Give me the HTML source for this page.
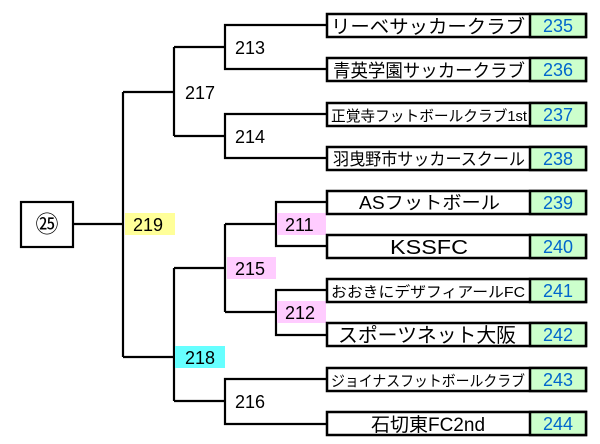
<!DOCTYPE html>
<html><head><meta charset="utf-8"><style>
html,body{margin:0;padding:0;background:#fff;}
svg{display:block;}
text{font-family:"Liberation Sans","Noto Sans CJK JP",sans-serif;}
</style></head><body>
<svg width="600" height="444" viewBox="0 0 600 444" xmlns="http://www.w3.org/2000/svg">
<g fill="none" stroke="#000" stroke-width="2.2">
<rect x="21" y="202" width="52" height="45"/>
<line x1="73" y1="224" x2="123" y2="224"/>
<line x1="123" y1="92" x2="123" y2="357"/>
<line x1="123" y1="92" x2="174" y2="92"/>
<line x1="123" y1="357" x2="174" y2="357"/>
<line x1="174" y1="47" x2="174" y2="136"/>
<line x1="174" y1="47" x2="225" y2="47"/>
<line x1="174" y1="136" x2="225" y2="136"/>
<path d="M326 25 H225 V69 H326"/>
<path d="M326 114 H225 V158 H326"/>
<line x1="174" y1="268" x2="174" y2="401"/>
<line x1="174" y1="268" x2="225" y2="268"/>
<line x1="174" y1="401" x2="225" y2="401"/>
<line x1="225" y1="224" x2="225" y2="312"/>
<line x1="225" y1="224" x2="276" y2="224"/>
<line x1="225" y1="312" x2="276" y2="312"/>
<path d="M326 202 H276 V246 H326"/>
<path d="M326 290 H276 V335 H326"/>
<path d="M326 379 H225 V424 H326"/>
</g>
<rect x="125" y="213" width="50" height="22" fill="#ffff99"/>
<rect x="175" y="346" width="50" height="22" fill="#66ffff"/>
<rect x="227" y="257" width="49" height="22" fill="#ffccff"/>
<rect x="277" y="213" width="49" height="22" fill="#ffccff"/>
<rect x="277" y="301" width="49" height="22" fill="#ffccff"/>
<g font-size="18" fill="#000">
<text x="47" y="232" text-anchor="middle" font-size="23">㉕</text>
<text x="133" y="231">219</text>
<text x="185" y="99">217</text>
<text x="235" y="54">213</text>
<text x="235" y="143">214</text>
<text x="185" y="364">218</text>
<text x="235" y="275">215</text>
<text x="285" y="231">211</text>
<text x="285" y="319">212</text>
<text x="235" y="408">216</text>
</g>
<g stroke="#000" stroke-width="2.5">
<rect x="327" y="14" width="259" height="23" fill="#fff"/><rect x="530" y="14" width="56" height="23" fill="#ccffcc"/>
<rect x="327" y="58" width="259" height="23" fill="#fff"/><rect x="530" y="58" width="56" height="23" fill="#ccffcc"/>
<rect x="327" y="103" width="259" height="23" fill="#fff"/><rect x="530" y="103" width="56" height="23" fill="#ccffcc"/>
<rect x="327" y="147" width="259" height="23" fill="#fff"/><rect x="530" y="147" width="56" height="23" fill="#ccffcc"/>
<rect x="327" y="191" width="259" height="23" fill="#fff"/><rect x="530" y="191" width="56" height="23" fill="#ccffcc"/>
<rect x="327" y="235" width="259" height="23" fill="#fff"/><rect x="530" y="235" width="56" height="23" fill="#ccffcc"/>
<rect x="327" y="279" width="259" height="23" fill="#fff"/><rect x="530" y="279" width="56" height="23" fill="#ccffcc"/>
<rect x="327" y="323" width="259" height="23" fill="#fff"/><rect x="530" y="323" width="56" height="23" fill="#ccffcc"/>
<rect x="327" y="368" width="259" height="23" fill="#fff"/><rect x="530" y="368" width="56" height="23" fill="#ccffcc"/>
<rect x="327" y="412" width="259" height="23" fill="#fff"/><rect x="530" y="412" width="56" height="23" fill="#ccffcc"/>
</g>
<g font-size="18" fill="#0066cc" text-anchor="middle">
<text x="558" y="32">235</text><text x="558" y="76">236</text><text x="558" y="121">237</text>
<text x="558" y="165">238</text><text x="558" y="209">239</text><text x="558" y="253">240</text>
<text x="558" y="297">241</text><text x="558" y="341">242</text><text x="558" y="386">243</text>
<text x="558" y="430">244</text>
</g>
<g fill="#000">
<text x="331" y="33" font-size="19" textLength="194" lengthAdjust="spacingAndGlyphs">リーベサッカークラブ</text>
<text x="333" y="77" font-size="18" textLength="192" lengthAdjust="spacingAndGlyphs">青英学園サッカークラブ</text>
<text x="331" y="121" font-size="15" textLength="196" lengthAdjust="spacingAndGlyphs">正覚寺フットボールクラブ1st</text>
<text x="333" y="165" font-size="17" textLength="192" lengthAdjust="spacingAndGlyphs">羽曳野市サッカースクール</text>
<text x="359" y="209" font-size="18" textLength="141" lengthAdjust="spacingAndGlyphs">ASフットボール</text>
<text x="390" y="254" font-size="20" textLength="78" lengthAdjust="spacingAndGlyphs">KSSFC</text>
<text x="331" y="297" font-size="15" textLength="194" lengthAdjust="spacingAndGlyphs">おおきにデザフィアールFC</text>
<text x="338" y="342" font-size="20" textLength="178" lengthAdjust="spacingAndGlyphs">スポーツネット大阪</text>
<text x="331" y="386" font-size="15" textLength="194" lengthAdjust="spacingAndGlyphs">ジョイナスフットボールクラブ</text>
<text x="428" y="431" font-size="19" text-anchor="middle">石切東FC2nd</text>
</g>
</svg>
</body></html>
